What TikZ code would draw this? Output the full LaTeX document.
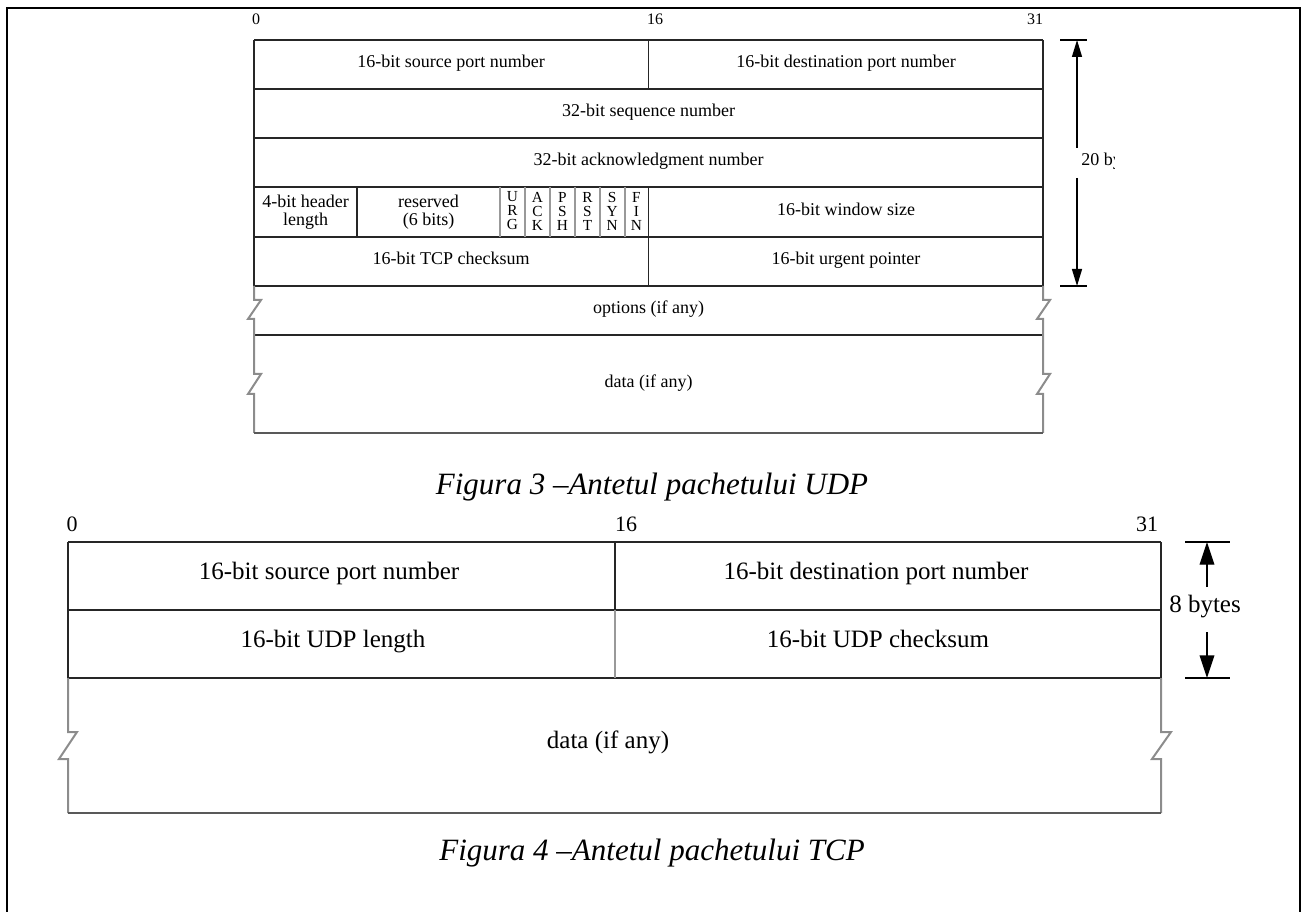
\documentclass[tikz,border=0pt]{standalone}
\usepackage{fontspec}
\setmainfont{Liberation Serif}
\usetikzlibrary{arrows.meta}
\begin{document}
\begin{tikzpicture}[x=0.75pt,y=-0.75pt,
  frame/.style={line width=2.2pt, line cap=rect},
  box/.style={line width=1pt, black!85},
  grayline/.style={line width=1.5pt, black!40},
  brk/.style={line width=1.5pt, black!45, line join=miter},
  bottomline/.style={line width=1.4pt, black!65},
  tcpm/.style={inner sep=0pt, font=\fontsize{13.5pt}{13.5pt}\selectfont, align=center},
  tcpt/.style={tcpm, text height=0.69em, text depth=0.22em},
  udpt/.style={inner sep=0pt, font=\fontsize{18.75pt}{18.75pt}\selectfont, align=center, text height=0.69em, text depth=0.22em},
  flagt/.style={inner sep=0pt, font=\fontsize{11.5pt}{10.5pt}\selectfont, align=center},
  tcpnum/.style={inner sep=0pt, font=\fontsize{12pt}{12pt}\selectfont},
  udpnum/.style={inner sep=0pt, font=\fontsize{16.5pt}{16.5pt}\selectfont},
  capt/.style={inner sep=0pt, font=\fontsize{23.25pt}{24pt}\selectfont\itshape},
  tcpdim/.style={line width=1pt, -{Triangle[length=12.75pt,width=7.5pt]}},
  udpdim/.style={line width=1pt, -{Triangle[length=17pt,width=11pt]}},
  tick/.style={line width=1pt},
]
\useasboundingbox (0,0) rectangle (1306,912);
% outer frame
\draw[frame] (7,915) -- (7,8) -- (1300,8) -- (1300,915);

% ================= TCP header =================
\node[tcpnum] (t0) at (256,19) {0};
\node[tcpnum] (t16) at (655,19) {16};
\node[tcpnum] (t31) at (1035,19) {31};

\foreach \yy in {40,89,138,187,237,286,335}
  \draw[box] (254,\yy) -- (1043,\yy);
\draw[box] (254,40) -- (254,286);
\draw[box] (1043,40) -- (1043,286);
\draw[box] (648.5,40) -- (648.5,89);
\draw[box] (648.5,187) -- (648.5,286);
\draw[box] (357,187) -- (357,237);
\foreach \xx in {500,525,550,575,600,624.5}
  \draw[grayline] (\xx,187) -- (\xx,237);
\draw[brk] (254,286) -- (254,300) -- (261,300) -- (248,319) -- (254,319)
  -- (254,374) -- (261,374) -- (248,394) -- (254,394) -- (254,433);
\draw[brk] (1043,286) -- (1043,300) -- (1050,300) -- (1037,319) -- (1043,319)
  -- (1043,374) -- (1050,374) -- (1037,394) -- (1043,394) -- (1043,433);
\draw[bottomline] (254,433) -- (1043,433);

\node[tcpt] (tsrc) at (451,64.5) {16-bit source port number};
\node[tcpt] (tdst) at (846,64.5) {16-bit destination port number};
\node[tcpt] (tseq) at (648.5,113.5) {32-bit sequence number};
\node[tcpt] (tack) at (648.5,162.5) {32-bit acknowledgment number};
\node[tcpm] (thl) at (305.5,212) {4-bit header\\length};
\node[tcpm] (tres) at (428.5,212) {reserved\\(6 bits)};
\node[flagt] (furg) at (512.5,211) {U\\R\\G};
\node[flagt] (fack) at (537.5,211) {A\\C\\K};
\node[flagt] (fpsh) at (562.5,211) {P\\S\\H};
\node[flagt] (frst) at (587.5,211) {R\\S\\T};
\node[flagt] (fsyn) at (612.2,211) {S\\Y\\N};
\node[flagt] (ffin) at (636.5,211) {F\\I\\N};
\node[tcpt] (twin) at (846,212) {16-bit window size};
\node[tcpt] (tck) at (451,261.5) {16-bit TCP checksum};
\node[tcpt] (turg) at (846,261.5) {16-bit urgent pointer};
\node[tcpt] (topt) at (648.5,310.5) {options (if any)};
\node[tcpt] (tdata) at (648.5,384) {data (if any)};

% 20 bytes dimension
\draw[tick] (1060,40) -- (1087,40);
\draw[tick] (1060,286) -- (1087,286);
\coordinate (tdTop) at (1077,40);
\coordinate (tdBot) at (1077,286);
\coordinate (tdA) at (1077,148);
\coordinate (tdB) at (1077,178);
\draw[tcpdim] (tdA) -- (tdTop);
\draw[tcpdim] (tdB) -- (tdBot);
\begin{scope}
  \clip (1079,140) rectangle (1114,190);
  \node[tcpt, anchor=west] (tdlab) at (1081,162.5) {20 bytes};
\end{scope}

% caption 3
\node[capt] (cap3) at (652,487) {Figura 3 –Antetul pachetului UDP};

% ================= UDP header =================
\node[udpnum] (u0) at (72,524) {0};
\node[udpnum] (u16) at (626,524) {16};
\node[udpnum] (u31) at (1147,524) {31};

\draw[box] (68,542) -- (1161,542);
\draw[box] (68,610) -- (1161,610);
\draw[box] (68,678) -- (1161,678);
\draw[box] (68,542) -- (68,678);
\draw[box] (1161,542) -- (1161,678);
\draw[box] (615,542) -- (615,610);
\draw[grayline] (615,610) -- (615,678);
\draw[brk] (68,678) -- (68,732) -- (77,732) -- (59,759) -- (68,759) -- (68,813);
\draw[brk] (1161,678) -- (1161,732) -- (1171,732) -- (1152,759) -- (1161,759) -- (1161,813);
\draw[bottomline] (68,813) -- (1161,813);

\node[udpt] (usrc) at (329,576) {16-bit source port number};
\node[udpt] (udst) at (876,576) {16-bit destination port number};
\node[udpt] (ulen) at (333,644) {16-bit UDP length};
\node[udpt] (uck) at (878,644) {16-bit UDP checksum};
\node[udpt] (udata) at (608,745) {data (if any)};

% 8 bytes dimension
\draw[tick] (1185,542) -- (1230,542);
\draw[tick] (1185,678) -- (1230,678);
\coordinate (udTop) at (1207,542);
\coordinate (udBot) at (1207,678);
\node[udpt] (udlab) at (1205,609) {8 bytes};
\coordinate (udA) at (1207,587);
\coordinate (udB) at (1207,632);
\draw[udpdim] (udA) -- (udTop);
\draw[udpdim] (udB) -- (udBot);

% caption 4
\node[capt] (cap4) at (652,853) {Figura 4 –Antetul pachetului TCP};
\end{tikzpicture}
\end{document}
